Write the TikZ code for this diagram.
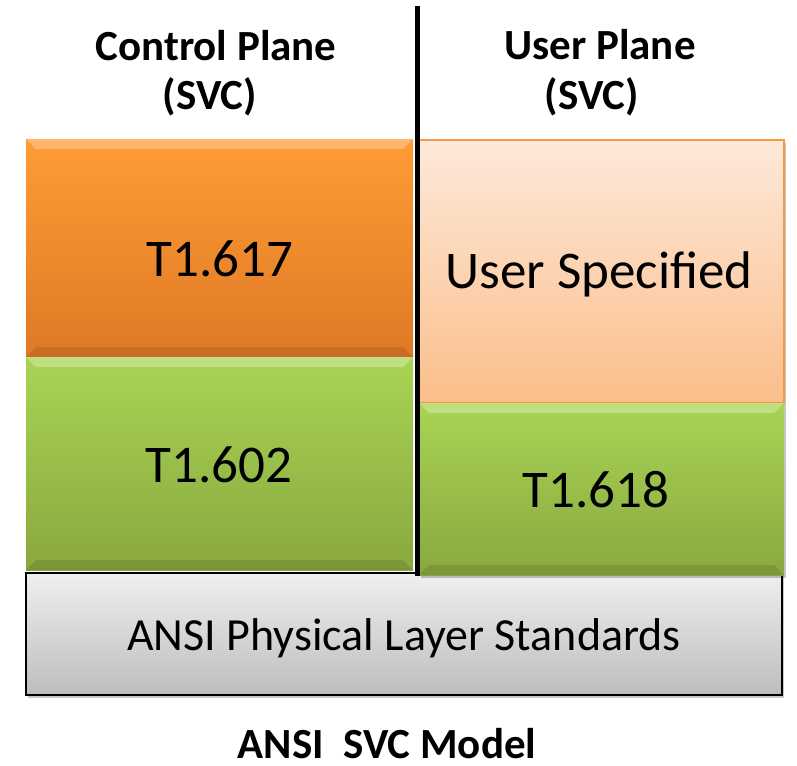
\documentclass[tikz,border=0pt]{standalone}
\usepackage{fontspec}
\setmainfont{Carlito}
\usetikzlibrary{shadows,calc}
\definecolor{orTop}{HTML}{FF9C35}
\definecolor{orBot}{HTML}{DF7926}
\definecolor{grTop}{HTML}{A9D454}
\definecolor{grBot}{HTML}{89A83F}
\definecolor{peTop}{HTML}{FDE9DA}
\definecolor{peBot}{HTML}{FBBE8A}
\definecolor{peEdge}{HTML}{F79646}
\definecolor{gyTop}{HTML}{EFEFEF}
\definecolor{gyBot}{HTML}{BDBDBD}
\tikzset{
  layer/.style={rectangle, inner sep=0pt, outer sep=0pt, anchor=north west},
  bevel/.style={path picture={
    \fill[white,opacity=0.28] (path picture bounding box.north west) -- (path picture bounding box.north east)
      -- ($(path picture bounding box.north east)+(-10,10)$) -- ($(path picture bounding box.north west)+(10,10)$) -- cycle;
    \fill[black,opacity=0.10] (path picture bounding box.south west) -- (path picture bounding box.south east)
      -- ($(path picture bounding box.south east)+(-10,-10)$) -- ($(path picture bounding box.south west)+(10,-10)$) -- cycle;
  }},
  orangebox/.style={layer, top color=orTop, bottom color=orBot, bevel},
  greenbox/.style={layer, top color=grTop, bottom color=grBot, bevel},
  peachbox/.style={layer, top color=peTop, bottom color=peBot, draw=peEdge, line width=2pt},
  graybox/.style={layer, top color=gyTop, bottom color=gyBot, draw=black, line width=1.6pt},
  softshadow/.style={drop shadow={opacity=0.22, shadow xshift=2pt, shadow yshift=-3pt, fill=black}},
  bigtext/.style={anchor=base, inner sep=0pt, font=\fontsize{53}{60}\selectfont},
  midtext/.style={anchor=base, inner sep=0pt, font=\fontsize{46}{52}\selectfont},
  headtext/.style={anchor=base, inner sep=0pt, font=\bfseries\fontsize{43}{46}\selectfont},
  divider/.style={line width=5pt, black}
}
\begin{document}
\begin{tikzpicture}[x=1pt, y=-1pt]
\useasboundingbox (0,0) rectangle (797,765);

% base layer
\node[graybox, softshadow, minimum width=756pt, minimum height=122pt] (phys) at (26,573) {};

% control plane column
\node[orangebox, minimum width=387pt, minimum height=218pt] (q617) at (26,139) {};
\node[greenbox, minimum width=387pt, minimum height=213pt] (q602) at (26,357) {};

% user plane column
\node[peachbox, softshadow, minimum width=365pt, minimum height=263pt] (usr) at (419,140) {};
\node[greenbox, softshadow, minimum width=365pt, minimum height=172pt] (q618) at (419,403) {};

% texts in boxes
\node[bigtext] (t617) at (220,276) {T1.617};
\node[bigtext] (t602) at (219,482) {T1.602};
\node[bigtext] (tusr) at (599,288) {User Specified};
\node[bigtext] (t618) at (596,507) {T1.618};
\node[midtext] (tphys) at (404,650) {ANSI Physical Layer Standards};

% headers
\node[headtext] (hc1) at (216,61) {Control Plane};
\node[headtext] (hc2) at (210,110) {(SVC)};
\node[headtext] (hu1) at (600,60) {User Plane};
\node[headtext] (hu2) at (592,110) {(SVC)};

% caption
\node[headtext] (cap) at (387,758) {ANSI\ \ SVC Model};

% divider
\coordinate (dtop) at (417,6);
\coordinate (dbot) at (417,576);
\draw[divider] (dtop) -- (dbot);
\end{tikzpicture}
\end{document}
